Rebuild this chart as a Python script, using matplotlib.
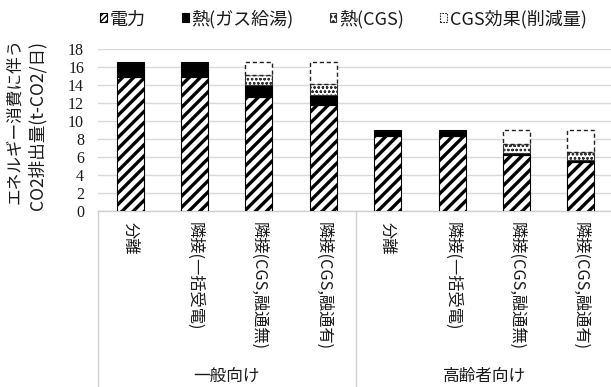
import matplotlib
matplotlib.use("Agg")
import matplotlib.pyplot as plt
from matplotlib.patches import Patch
from matplotlib.lines import Line2D

# Data
categories = ['分離', '隣接(一括受電)', '隣接(CGS,融通無)', '隣接(CGS,融通有)',
              '分離', '隣接(一括受電)', '隣接(CGS,融通無)', '隣接(CGS,融通有)']
groups = ['一般向け', '高齢者向け']
series_names = ['電力', '熱(ガス給湯)', '熱(CGS)', 'CGS効果(削減量)']
elec = [14.85, 14.85, 12.7, 11.8, 8.3, 8.3, 6.2, 5.5]
gas_heat = [1.75, 1.75, 1.3, 1.1, 0.7, 0.7, 0.2, 0.2]
cgs_heat = [0, 0, 1.1, 1.2, 0, 0, 1.1, 0.9]
cgs_effect = [0, 0, 1.5, 2.5, 0, 0, 1.5, 2.4]
yticks = [0, 2, 4, 6, 8, 10, 12, 14, 16, 18]

JP = ['Noto Sans CJK JP', 'DejaVu Sans']
plt.rcParams['font.family'] = JP
TXT = '#1a1a1a'

W, H = 611, 387
fig = plt.figure(figsize=(W / 100, H / 100), dpi=100)
ax = fig.add_axes([98 / W, 1 - 211 / H, 515 / W, 162 / H])

x = list(range(len(categories)))
bw = 0.42


def set_hlw(bars, lw):
    for b in bars:
        if hasattr(b, 'set_hatch_linewidth'):
            b.set_hatch_linewidth(lw)


with plt.rc_context({'hatch.linewidth': 2.4}):
    b1 = ax.bar(x, elec, bw, color='white', edgecolor='black', hatch='///',
                linewidth=0.8, zorder=3)
    set_hlw(b1, 2.4)

bottom = list(elec)
ax.bar(x, gas_heat, bw, bottom=bottom, color='black', edgecolor='black',
       linewidth=0.8, zorder=3)
bottom = [a + b for a, b in zip(bottom, gas_heat)]

with plt.rc_context({'hatch.linewidth': 0.6}):
    b3 = []
    for xi, v, bt in zip(x, cgs_heat, bottom):
        if v > 0:
            b3 += list(ax.bar(xi, v, bw, bottom=bt, color='white',
                              edgecolor='#333333', hatch='oooo',
                              linewidth=0.8, zorder=3))
    set_hlw(b3, 0.6)
bottom = [a + b for a, b in zip(bottom, cgs_heat)]

for xi, v, bt in zip(x, cgs_effect, bottom):
    if v > 0:
        ax.bar(xi, v, bw, bottom=bt, color='white', edgecolor='#222222',
               linewidth=1.0, linestyle=(0, (3, 2)), zorder=3)

ax.set_xlim(-0.5, 7.5)
ax.set_ylim(0, 18)
ax.set_yticks(yticks)
ax.set_yticklabels([str(t) for t in yticks], family='Liberation Serif',
                   fontsize=11.5, color=TXT)
ax.tick_params(axis='y', length=0, pad=10)
ax.set_xticks([])
ax.grid(axis='y', color='#d9d9d9', linewidth=1, zorder=0)
for s in ['top', 'right', 'left']:
    ax.spines[s].set_visible(False)
ax.spines['bottom'].set_color('#cfcfcf')
ax.spines['bottom'].set_linewidth(1)

# Category labels (vertical)
for xi, lab in zip(x, categories):
    ax.annotate(lab, (xi, 0), xycoords=('data', 'axes fraction'),
                xytext=(0, -8), textcoords='offset points',
                rotation=-90, ha='center', va='top', fontsize=11.7,
                color=TXT, family=JP)

# Group separators and labels
for bx in [-0.5, 3.5, 7.5]:
    ax.add_line(Line2D([bx, bx], [0, -1.1], transform=ax.get_xaxis_transform(),
                       color='#d0d0d0', linewidth=1, clip_on=False))
for gi, g in enumerate(groups):
    ax.text(gi * 4 + 1.5, 1 - (376 - 49) / 162, g,
            transform=ax.get_xaxis_transform(),
            ha='center', va='center', fontsize=12, color=TXT)

# Y-axis label (two lines)
fig.text(15 / W, 1 - 121 / H, 'エネルギー消費に伴う', rotation=90,
         ha='center', va='center', fontsize=12, color=TXT)
fig.text(37 / W, 1 - 125 / H, 'CO2排出量(t-CO2/日)', rotation=90,
         ha='center', va='center', fontsize=12.6, color=TXT)

# Legend
handles = [
    Patch(facecolor='white', edgecolor='black', hatch='//////', linewidth=0.8),
    Patch(facecolor='black', edgecolor='black', linewidth=0.8),
    Patch(facecolor='white', edgecolor='#333333', hatch='ooo', linewidth=0.8),
    Patch(facecolor='white', edgecolor='#222222', linestyle=(0, (1.5, 1)),
          linewidth=0.8),
]
fig.legend(handles, series_names, loc='center left',
           bbox_to_anchor=(100 / W, 1 - 19 / H), borderpad=0, borderaxespad=0,
           ncol=4, frameon=False, fontsize=13, handlelength=0.38,
           handleheight=0.38, handletextpad=0.15, columnspacing=2.0,
           labelcolor=TXT)

fig.savefig('out.png', dpi=100)
